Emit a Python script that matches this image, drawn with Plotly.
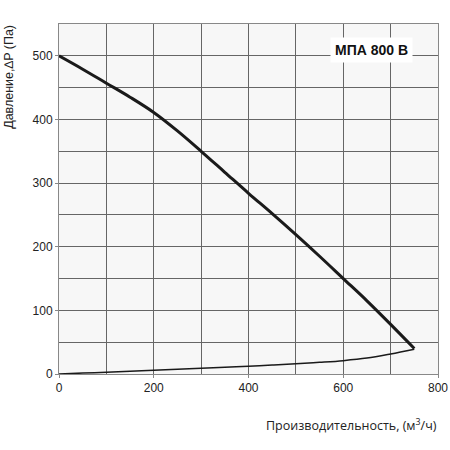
import plotly.graph_objects as go

flow_fan = [0, 50, 100, 150, 200, 250, 300, 350, 400, 450, 500, 550, 600, 650, 700, 750]
pressure_fan = [500, 479, 457, 435, 411, 382, 350, 317, 284, 252, 219, 185, 150, 115, 78, 40]

flow_sys = [0, 50, 100, 150, 200, 250, 300, 350, 400, 450, 500, 550, 600, 650, 700, 750]
pressure_sys = [0, 1.4, 2.9, 4.3, 5.8, 7.3, 8.9, 10.5, 12.2, 14, 16, 18.3, 21, 25, 31.5, 39]

x_ticks = [0, 200, 400, 600, 800]
y_ticks = [0, 100, 200, 300, 400, 500]
label = "МПА 800 В"

fig = go.Figure()
fig.add_trace(go.Scatter(x=flow_fan, y=pressure_fan, mode="lines",
                         line=dict(color="#1a1a1a", width=3, shape="spline", smoothing=1),
                         showlegend=False, hoverinfo="skip"))
fig.add_trace(go.Scatter(x=flow_sys, y=pressure_sys, mode="lines",
                         line=dict(color="#1a1a1a", width=1.5, shape="spline", smoothing=1),
                         showlegend=False, hoverinfo="skip"))

fig.add_annotation(x=660, y=509, xref="x", yref="y", text="<b>" + label + "</b>",
                   showarrow=False, bgcolor="white",
                   font=dict(family="Liberation Sans", size=14, color="#111"),
                   borderpad=4)
fig.add_annotation(x=1.003, y=-0.115, xref="paper", yref="paper", xanchor="right", yanchor="top",
                   text="Производительность, (м<sup>3</sup>/ч)", showarrow=False,
                   font=dict(family="Open Sans", size=12.5, color="#222"))
fig.add_annotation(x=-0.134, y=1.004, xref="paper", yref="paper", xanchor="center", yanchor="top",
                   text="Давление,∆P (Па)", textangle=-90, showarrow=False,
                   font=dict(family="Liberation Sans", size=12.5, color="#222"))

axis_common = dict(showline=True, linecolor="#888", linewidth=1, mirror=True,
                   gridcolor="#666", gridwidth=1, zeroline=False,
                   ticks="outside", ticklen=3, tickcolor="#888", automargin=False,
                   tickfont=dict(family="Liberation Sans", size=12, color="#222"))

fig.update_xaxes(range=[0, 800], tickvals=x_ticks,
                 minor=dict(dtick=100, showgrid=True, gridcolor="#666", gridwidth=1),
                 **axis_common)
fig.update_yaxes(range=[0, 550], tickvals=y_ticks,
                 minor=dict(dtick=50, showgrid=True, gridcolor="#666", gridwidth=1),
                 **axis_common)

fig.update_layout(width=450, height=450, margin=dict(l=59, r=12, t=24, b=76),
                  plot_bgcolor="#f7f7f7", paper_bgcolor="white")

fig.write_html("out.html", config={"displayModeBar": False},
               post_script="document.body.style.margin='0';")
